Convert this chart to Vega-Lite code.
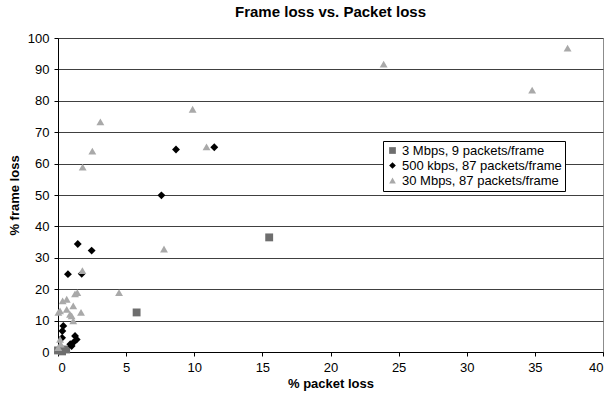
{
  "$schema": "https://vega.github.io/schema/vega-lite/v6.json",
  "width": 545,
  "height": 314,
  "autosize": {"type": "none"},
  "padding": {"left": 58, "top": 38, "right": 7, "bottom": 48},
  "background": "white",
  "title": {"text": "Frame loss vs. Packet loss", "font": "Liberation Sans", "fontSize": 15, "fontWeight": "bold", "color": "black", "offset": 12, "anchor": "middle"},
  "config": {
    "view": {"stroke": "#8c8c8c", "strokeWidth": 1},
    "axis": {"labelFont": "Liberation Sans", "titleFont": "Liberation Sans", "labelFontSize": 13, "titleFontSize": 13, "labelColor": "black", "titleColor": "black", "titleFontWeight": "bold", "domainColor": "black", "tickColor": "black", "tickSize": 4}
  },
  "data": {"values": [
    {"series": "3 Mbps, 9 packets/frame", "pl": 15.5, "fl": 36.5},
    {"series": "3 Mbps, 9 packets/frame", "pl": 5.77, "fl": 12.6},
    {"series": "3 Mbps, 9 packets/frame", "pl": 0.0, "fl": 0.5},
    {"series": "3 Mbps, 9 packets/frame", "pl": 0.3, "fl": 0.2},
    {"series": "3 Mbps, 9 packets/frame", "pl": 0.6, "fl": 0.8},
    {"series": "500 kbps, 87 packets/frame", "pl": 1.45, "fl": 34.4},
    {"series": "500 kbps, 87 packets/frame", "pl": 2.47, "fl": 32.3},
    {"series": "500 kbps, 87 packets/frame", "pl": 0.73, "fl": 24.8},
    {"series": "500 kbps, 87 packets/frame", "pl": 1.74, "fl": 24.9},
    {"series": "500 kbps, 87 packets/frame", "pl": 7.59, "fl": 49.9},
    {"series": "500 kbps, 87 packets/frame", "pl": 8.66, "fl": 64.5},
    {"series": "500 kbps, 87 packets/frame", "pl": 11.47, "fl": 65.2},
    {"series": "500 kbps, 87 packets/frame", "pl": 0.39, "fl": 8.3},
    {"series": "500 kbps, 87 packets/frame", "pl": 0.32, "fl": 6.7},
    {"series": "500 kbps, 87 packets/frame", "pl": 1.25, "fl": 5.1},
    {"series": "500 kbps, 87 packets/frame", "pl": 1.37, "fl": 4.0},
    {"series": "500 kbps, 87 packets/frame", "pl": 1.12, "fl": 3.0},
    {"series": "500 kbps, 87 packets/frame", "pl": 1.0, "fl": 1.9},
    {"series": "500 kbps, 87 packets/frame", "pl": 0.9, "fl": 2.5},
    {"series": "500 kbps, 87 packets/frame", "pl": 0.3, "fl": 4.5},
    {"series": "30 Mbps, 87 packets/frame", "pl": 37.4, "fl": 96.8},
    {"series": "30 Mbps, 87 packets/frame", "pl": 23.9, "fl": 91.7},
    {"series": "30 Mbps, 87 packets/frame", "pl": 34.8, "fl": 83.4},
    {"series": "30 Mbps, 87 packets/frame", "pl": 9.88, "fl": 77.3},
    {"series": "30 Mbps, 87 packets/frame", "pl": 3.11, "fl": 73.3},
    {"series": "30 Mbps, 87 packets/frame", "pl": 10.9, "fl": 65.3},
    {"series": "30 Mbps, 87 packets/frame", "pl": 2.52, "fl": 64.0},
    {"series": "30 Mbps, 87 packets/frame", "pl": 1.81, "fl": 58.9},
    {"series": "30 Mbps, 87 packets/frame", "pl": 7.78, "fl": 32.8},
    {"series": "30 Mbps, 87 packets/frame", "pl": 1.79, "fl": 25.9},
    {"series": "30 Mbps, 87 packets/frame", "pl": 4.48, "fl": 18.9},
    {"series": "30 Mbps, 87 packets/frame", "pl": 1.42, "fl": 18.9},
    {"series": "30 Mbps, 87 packets/frame", "pl": 1.25, "fl": 18.5},
    {"series": "30 Mbps, 87 packets/frame", "pl": 0.64, "fl": 16.8},
    {"series": "30 Mbps, 87 packets/frame", "pl": 0.34, "fl": 16.3},
    {"series": "30 Mbps, 87 packets/frame", "pl": 1.12, "fl": 14.7},
    {"series": "30 Mbps, 87 packets/frame", "pl": 0.64, "fl": 13.6},
    {"series": "30 Mbps, 87 packets/frame", "pl": 0.03, "fl": 12.6},
    {"series": "30 Mbps, 87 packets/frame", "pl": 0.15, "fl": 13.1},
    {"series": "30 Mbps, 87 packets/frame", "pl": 1.69, "fl": 12.6},
    {"series": "30 Mbps, 87 packets/frame", "pl": 0.88, "fl": 12.0},
    {"series": "30 Mbps, 87 packets/frame", "pl": 1.0, "fl": 11.5},
    {"series": "30 Mbps, 87 packets/frame", "pl": 1.12, "fl": 9.9},
    {"series": "30 Mbps, 87 packets/frame", "pl": 0.15, "fl": 4.0},
    {"series": "30 Mbps, 87 packets/frame", "pl": 0.02, "fl": 1.4},
    {"series": "30 Mbps, 87 packets/frame", "pl": 0.2, "fl": 2.5}
  ]},
  "mark": {"type": "point", "filled": true, "opacity": 1, "size": 62},
  "encoding": {
    "x": {"field": "pl", "type": "quantitative", "title": "% packet loss",
          "scale": {"domain": [0, 40], "nice": false, "zero": true},
          "axis": {"values": [0,5,10,15,20,25,30,35,40], "grid": false, "titlePadding": 3, "labelPadding": 5}},
    "y": {"field": "fl", "type": "quantitative", "title": "% frame loss",
          "scale": {"domain": [0, 100], "nice": false},
          "axis": {"values": [0,10,20,30,40,50,60,70,80,90,100], "grid": true, "gridColor": "#404040", "gridWidth": 1, "titlePadding": 6, "labelPadding": 5}},
    "color": {"field": "series", "type": "nominal", "title": null,
              "scale": {"domain": ["3 Mbps, 9 packets/frame", "500 kbps, 87 packets/frame", "30 Mbps, 87 packets/frame"], "range": ["#6e6e6e", "#000000", "#a9a9a9"]},
              "legend": {"orient": "none", "legendX": 325, "legendY": 103, "strokeColor": "black", "fillColor": "white", "padding": 3, "labelFont": "Liberation Sans", "labelFontSize": 13, "labelColor": "black", "symbolSize": 45, "rowPadding": 1, "labelOffset": 3}},
    "shape": {"field": "series", "type": "nominal",
              "scale": {"domain": ["3 Mbps, 9 packets/frame", "500 kbps, 87 packets/frame", "30 Mbps, 87 packets/frame"], "range": ["square", "diamond", "triangle-up"]}}
  }
}
